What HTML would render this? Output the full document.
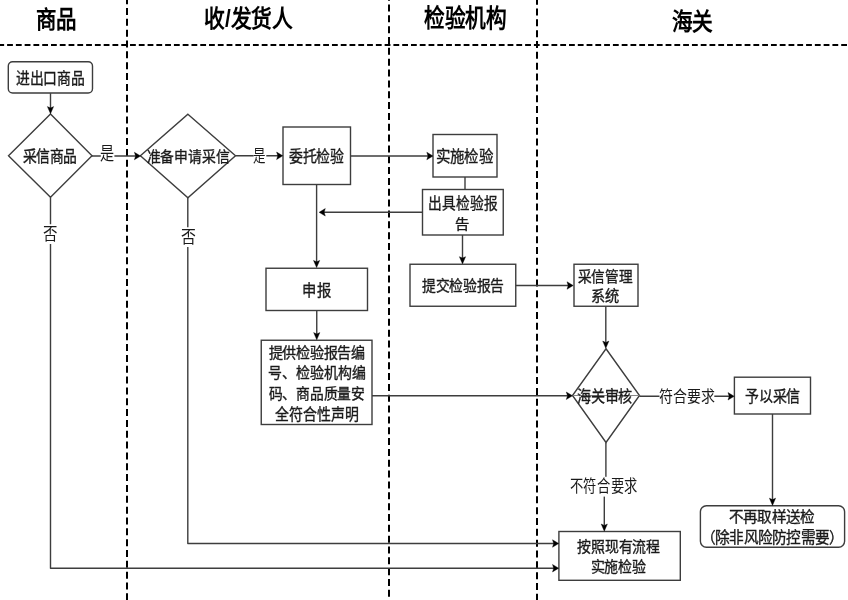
<!DOCTYPE html><html lang="zh-CN"><head><meta charset="utf-8"><title>采信流程</title><style>html,body{margin:0;padding:0;background:#fff;width:848px;height:600px;overflow:hidden}svg{display:block;will-change:transform}text{font-family:"Liberation Sans",sans-serif}</style></head><body>
<svg width="848" height="600" viewBox="0 0 848 600">
<g stroke="#000" stroke-width="2" fill="none">
<line x1="0" y1="45" x2="848" y2="45" stroke-dasharray="5.8 2.98" stroke-dashoffset="1.68"/>
<line x1="127" y1="0" x2="127" y2="600" stroke-dasharray="7 3.84" stroke-dashoffset="2.84"/>
<line x1="389" y1="0" x2="389" y2="600" stroke-dasharray="7 3.84" stroke-dashoffset="6.34"/>
<line x1="537" y1="0" x2="537" y2="600" stroke-dasharray="7 3.84" stroke-dashoffset="2.34"/>
</g>
<g stroke="#3d3d3d" stroke-width="1.4" fill="#fff">
<rect x="8.3" y="61.8" width="84.2" height="31.2" rx="4.3"/>
<polygon points="50.5,114 92,155.8 50.5,197.2 8.5,155.8"/>
<polygon points="187.9,114.3 235.5,155.8 187.9,197.8 140.4,155.8"/>
<rect x="283" y="127" width="67.5" height="57.5"/>
<rect x="433" y="134.5" width="64" height="42.5"/>
<rect x="422.5" y="189.5" width="80.75" height="45.5"/>
<rect x="266" y="268.25" width="101.5" height="42.25"/>
<rect x="261.25" y="340.25" width="110.75" height="84.25"/>
<rect x="410" y="264.25" width="105.75" height="42"/>
<rect x="574" y="264.25" width="64" height="42"/>
<polygon points="606,348.75 639.5,395.5 606,442.5 572.5,395.5"/>
<rect x="734.4" y="377.2" width="76.1" height="36.8"/>
<rect x="700.4" y="505.7" width="144.2" height="41.5" rx="6"/>
<rect x="558.9" y="531.5" width="121.4" height="48.8"/>
</g>
<path d="M572.5,395.5 L639.5,395.5" stroke="#888" stroke-width="1"/>
<g stroke="#3d3d3d" stroke-width="1.4" fill="none" stroke-linejoin="round">
<path d="M50.50,93.20 L50.50,108.30"/>
<path d="M92.00,156.00 L135.90,156.00"/>
<path d="M235.50,155.80 L278.10,155.80"/>
<path d="M350.50,156.00 L428.30,156.00"/>
<path d="M465.00,177.00 L465.00,189.50"/>
<path d="M422.50,212.30 L323.80,212.30"/>
<path d="M316.60,184.50 L316.60,262.10"/>
<path d="M316.75,310.50 L316.75,334.30"/>
<path d="M462.50,235.00 L462.50,258.40"/>
<path d="M515.75,285.50 L568.50,285.50"/>
<path d="M605.80,306.25 L605.80,342.80"/>
<path d="M372.00,395.75 L567.80,395.75"/>
<path d="M639.50,396.30 L729.50,396.30"/>
<path d="M772.50,414.00 L772.50,499.90"/>
<path d="M605.90,442.50 L605.90,487.00"/>
<path d="M604.30,487.00 L604.30,525.70"/>
<path d="M187.80,197.80 L187.80,543.50 L554.00,543.50"/>
<path d="M50.50,197.20 L50.50,568.20 L554.00,568.20"/>
</g>
<path fill="#000" stroke="#000" stroke-width="0.4" stroke-linejoin="round" d="M50.50,113.80 L47.40,106.60 L50.50,108.00 L53.60,106.60 Z M140.60,156.00 L134.40,152.25 L135.60,156.00 L134.40,159.75 Z M282.80,155.80 L276.60,152.05 L277.80,155.80 L276.60,159.55 Z M433.00,156.00 L426.80,152.25 L428.00,156.00 L426.80,159.75 Z M319.10,212.30 L325.30,208.55 L324.10,212.30 L325.30,216.05 Z M316.60,267.60 L313.50,260.40 L316.60,261.80 L319.70,260.40 Z M316.75,339.80 L313.65,332.60 L316.75,334.00 L319.85,332.60 Z M462.50,263.90 L459.40,256.70 L462.50,258.10 L465.60,256.70 Z M573.20,285.50 L567.00,281.75 L568.20,285.50 L567.00,289.25 Z M605.80,348.30 L602.70,341.10 L605.80,342.50 L608.90,341.10 Z M572.50,395.75 L566.30,392.00 L567.50,395.75 L566.30,399.50 Z M734.20,396.30 L728.00,392.55 L729.20,396.30 L728.00,400.05 Z M772.50,505.40 L769.40,498.20 L772.50,499.60 L775.60,498.20 Z M604.30,531.20 L601.20,524.00 L604.30,525.40 L607.40,524.00 Z M558.70,543.50 L552.50,539.75 L553.70,543.50 L552.50,547.25 Z M558.70,568.20 L552.50,564.45 L553.70,568.20 L552.50,571.95 Z"/>
<text x="36.22" y="28.20" font-size="24.25" textLength="40.56" lengthAdjust="spacingAndGlyphs" font-weight="bold" fill="#000">商品</text>
<text x="204.20" y="27.23" font-size="24.00" textLength="88.78" lengthAdjust="spacingAndGlyphs" font-weight="bold" fill="#000">收/发货人</text>
<text x="424.00" y="27.12" font-size="25.00" textLength="82.80" lengthAdjust="spacingAndGlyphs" font-weight="bold" fill="#000">检验机构</text>
<text x="671.71" y="30.23" font-size="24.00" textLength="41.34" lengthAdjust="spacingAndGlyphs" font-weight="bold" fill="#000">海关</text>
<text x="15.69" y="84.12" font-size="16.00" textLength="69.13" lengthAdjust="spacingAndGlyphs" font-weight="normal" fill="#1a1a1a" stroke="#1a1a1a" stroke-width="0.35">进出口商品</text>
<text x="22.70" y="161.70" font-size="16.38" textLength="54.09" lengthAdjust="spacingAndGlyphs" font-weight="normal" fill="#1a1a1a" stroke="#1a1a1a" stroke-width="0.35">采信商品</text>
<rect x="100.80" y="142.75" width="13.60" height="18.95" fill="#fff"/>
<text x="100.26" y="160.40" font-size="18.70" textLength="14.34" lengthAdjust="spacingAndGlyphs" font-weight="normal" fill="#1a1a1a">是</text>
<text x="146.69" y="161.86" font-size="15.00" textLength="82.75" lengthAdjust="spacingAndGlyphs" font-weight="normal" fill="#1a1a1a" stroke="#1a1a1a" stroke-width="0.35">准备申请采信</text>
<rect x="253.60" y="145.75" width="12.70" height="16.95" fill="#fff"/>
<text x="253.42" y="161.65" font-size="16.57" textLength="12.86" lengthAdjust="spacingAndGlyphs" font-weight="normal" fill="#1a1a1a">是</text>
<rect x="43.75" y="224.25" width="13.25" height="19.75" fill="#fff"/>
<text x="43.13" y="239.78" font-size="16.73" textLength="14.73" lengthAdjust="spacingAndGlyphs" font-weight="normal" fill="#1a1a1a">否</text>
<rect x="181.75" y="227.25" width="13.25" height="19.75" fill="#fff"/>
<text x="181.12" y="243.02" font-size="16.87" textLength="15.02" lengthAdjust="spacingAndGlyphs" font-weight="normal" fill="#1a1a1a">否</text>
<text x="289.25" y="161.70" font-size="16.38" textLength="54.38" lengthAdjust="spacingAndGlyphs" font-weight="normal" fill="#1a1a1a" stroke="#1a1a1a" stroke-width="0.35">委托检验</text>
<text x="436.17" y="161.70" font-size="16.38" textLength="56.58" lengthAdjust="spacingAndGlyphs" font-weight="normal" fill="#1a1a1a" stroke="#1a1a1a" stroke-width="0.35">实施检验</text>
<text x="427.80" y="208.79" font-size="15.62" textLength="70.28" lengthAdjust="spacingAndGlyphs" font-weight="normal" fill="#1a1a1a" stroke="#1a1a1a" stroke-width="0.35">出具检验报</text>
<text x="455.17" y="228.58" font-size="13.12" textLength="14.17" lengthAdjust="spacingAndGlyphs" font-weight="normal" fill="#1a1a1a" stroke="#1a1a1a" stroke-width="0.35">告</text>
<text x="302.32" y="295.71" font-size="16.10" textLength="28.52" lengthAdjust="spacingAndGlyphs" font-weight="normal" fill="#1a1a1a" stroke="#1a1a1a" stroke-width="0.35">申报</text>
<text x="422.25" y="291.21" font-size="15.25" textLength="81.55" lengthAdjust="spacingAndGlyphs" font-weight="normal" fill="#1a1a1a" stroke="#1a1a1a" stroke-width="0.35">提交检验报告</text>
<text x="577.70" y="281.86" font-size="15.00" textLength="54.55" lengthAdjust="spacingAndGlyphs" font-weight="normal" fill="#1a1a1a" stroke="#1a1a1a" stroke-width="0.35">采信管理</text>
<text x="591.18" y="300.57" font-size="14.25" textLength="27.95" lengthAdjust="spacingAndGlyphs" font-weight="normal" fill="#1a1a1a" stroke="#1a1a1a" stroke-width="0.35">系统</text>
<text x="268.62" y="357.57" font-size="14.25" textLength="96.44" lengthAdjust="spacingAndGlyphs" font-weight="normal" fill="#1a1a1a" stroke="#1a1a1a" stroke-width="0.35">提供检验报告编</text>
<text x="267.80" y="378.24" font-size="15.00" textLength="97.77" lengthAdjust="spacingAndGlyphs" font-weight="normal" fill="#1a1a1a" stroke="#1a1a1a" stroke-width="0.35">号、检验机构编</text>
<text x="268.62" y="399.24" font-size="15.00" textLength="96.44" lengthAdjust="spacingAndGlyphs" font-weight="normal" fill="#1a1a1a" stroke="#1a1a1a" stroke-width="0.35">码、商品质量安</text>
<text x="275.00" y="420.12" font-size="16.00" textLength="83.57" lengthAdjust="spacingAndGlyphs" font-weight="normal" fill="#1a1a1a" stroke="#1a1a1a" stroke-width="0.35">全符合性声明</text>
<text x="577.19" y="401.70" font-size="16.38" textLength="55.06" lengthAdjust="spacingAndGlyphs" font-weight="normal" fill="#1a1a1a" stroke="#1a1a1a" stroke-width="0.35">海关审核</text>
<rect x="659.50" y="385.40" width="54.80" height="20.50" fill="#fff"/>
<text x="659.49" y="401.79" font-size="16.25" textLength="55.11" lengthAdjust="spacingAndGlyphs" font-weight="normal" fill="#1a1a1a">符合要求</text>
<text x="745.45" y="402.19" font-size="15.40" textLength="54.35" lengthAdjust="spacingAndGlyphs" font-weight="normal" fill="#1a1a1a" stroke="#1a1a1a" stroke-width="0.35">予以采信</text>
<rect x="570.20" y="476.80" width="67.90" height="19.80" fill="#fff"/>
<text x="569.54" y="492.41" font-size="16.50" textLength="68.51" lengthAdjust="spacingAndGlyphs" font-weight="normal" fill="#1a1a1a">不符合要求</text>
<text x="577.15" y="552.47" font-size="15.10" textLength="82.90" lengthAdjust="spacingAndGlyphs" font-weight="normal" fill="#1a1a1a" stroke="#1a1a1a" stroke-width="0.35">按照现有流程</text>
<text x="590.58" y="572.37" font-size="15.10" textLength="55.47" lengthAdjust="spacingAndGlyphs" font-weight="normal" fill="#1a1a1a" stroke="#1a1a1a" stroke-width="0.35">实施检验</text>
<text x="729.17" y="522.45" font-size="14.45" textLength="84.81" lengthAdjust="spacingAndGlyphs" font-weight="normal" fill="#1a1a1a" stroke="#1a1a1a" stroke-width="0.35">不再取样送检</text>
<text x="700.72" y="542.59" font-size="15.40" textLength="142.75" lengthAdjust="spacingAndGlyphs" font-weight="normal" fill="#1a1a1a" stroke="#1a1a1a" stroke-width="0.35">（除非风险防控需要）</text>
</svg></body></html>
